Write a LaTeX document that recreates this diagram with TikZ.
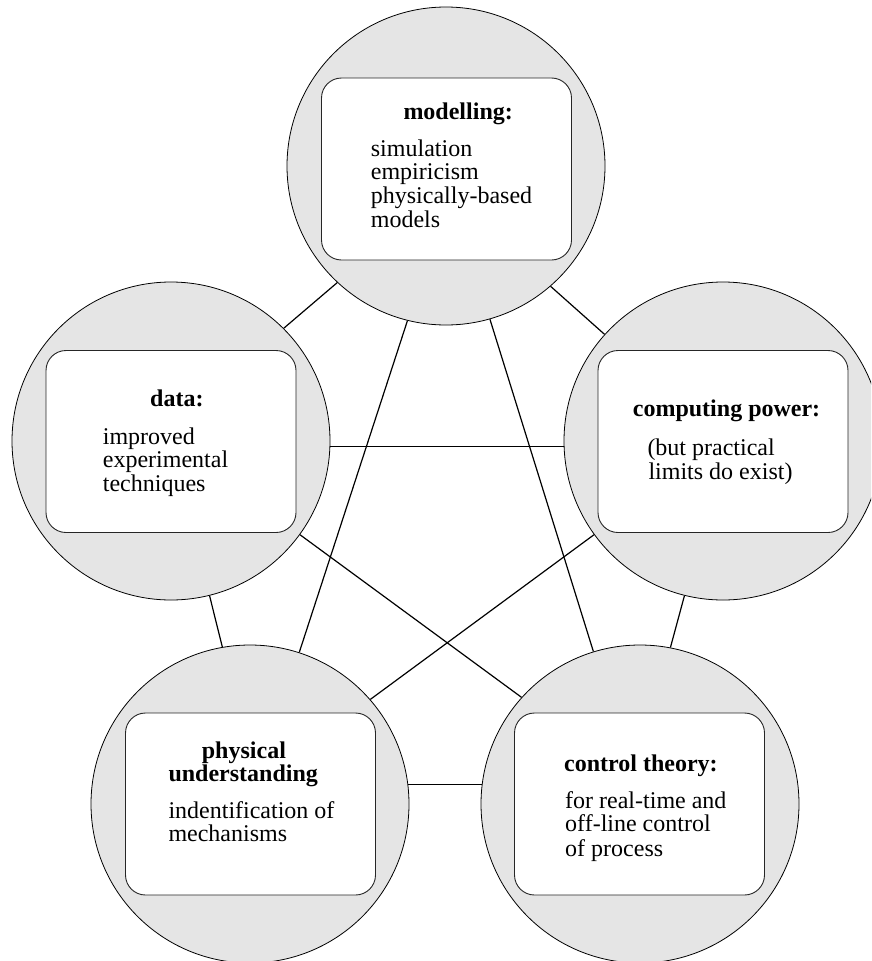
\documentclass[tikz,border=0pt]{standalone}
\usepackage{fontspec}
\setmainfont{Liberation Serif}
\definecolor{discgray}{RGB}{229,229,229}
\begin{document}
\begin{tikzpicture}[x=1pt,y=-1pt,
  disc/.style={circle,draw=black,line width=0.8pt,fill=discgray,minimum size=318pt,inner sep=0pt},
  panel/.style={draw=black!85,line width=0.9pt,fill=white,rounded corners=20pt,minimum width=250pt,minimum height=182pt,inner sep=0pt},
  link/.style={line width=1.2pt,black},
  txt/.style={inner sep=0pt,anchor=base west,font=\fontsize{24}{24}\selectfont},
  head/.style={txt,font=\fontsize{24}{24}\selectfont\bfseries}]
\useasboundingbox (0,0) rectangle (871,961);
\clip (0,0) rectangle (871,961);
% circles (named nodes)
\node[disc] (M) at (446,166) {};
\node[disc] (D) at (171,441) {};
\node[disc] (C) at (723,441) {};
\node[disc] (P) at (250,804) {};
\node[disc] (T) at (640,804) {};
% connectors
\draw[link] (M.-133.2) -- (D.45.3);
\draw[link] (M.-49.3) -- (C.138.6);
\draw[link] (M.-104.7) -- (P.72.5);
\draw[link] (M.-74.2) -- (T.107.2);
\draw[link] (D.-2.2) -- (C.182.2 |- D.-2.2);
\draw[link] (D.-76.1) -- (P.100.2);
\draw[link] (D.-36.1) -- (T.138.8);
\draw[link] (C.-104.2) -- (T.79.1);
\draw[link] (C.-144.7) -- (P.41.5);
\draw[link] (P.7.2) -- (T.172.8 |- P.7.2);
% inner panels
\node[panel] (Mb) at (446.5,169) {};
\node[panel] (Db) at (171,441.5) {};
\node[panel] (Cb) at (723,441.5) {};
\node[panel] (Pb) at (250.5,804) {};
\node[panel] (Tb) at (639.5,804) {};
% modelling
\node[head] (m0) at (403.3,119.3) {modelling:};
\node[txt] (m1) at (370.7,156.5) {simulation};
\node[txt] (m2) at (370.7,179.5) {empiricism};
\node[txt] (m3) at (370.7,203.3) {physically-based};
\node[txt] (m4) at (370.7,227.3) {models};
% data
\node[head] (d0) at (150,406.7) {data:};
\node[txt] (d1) at (102.7,444.3) {improved};
\node[txt] (d2) at (102.7,467.7) {experimental};
\node[txt] (d3) at (102.7,491.7) {techniques};
% computing power
\node[head] (c0) at (632.7,416.7) {computing power:};
\node[txt] (c1) at (647.3,455.7) {(but practical};
\node[txt] (c2) at (648.3,479.3) {limits do exist)};
% physical understanding
\node[head] (p0) at (201.7,758.3) {physical};
\node[head] (p1) at (168.3,781.7) {understanding};
\node[txt] (p2) at (168.3,818.3) {indentification of};
\node[txt] (p3) at (168.3,841.7) {mechanisms};
% control theory
\node[head] (t0) at (564,771.7) {control theory:};
\node[txt] (t1) at (565,808.3) {for real-time and};
\node[txt] (t2) at (565,831.7) {off-line control};
\node[txt] (t3) at (565,856) {of process};
\end{tikzpicture}
\end{document}
